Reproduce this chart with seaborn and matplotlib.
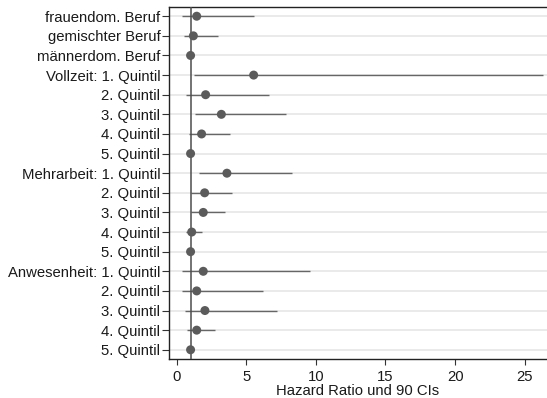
import matplotlib
matplotlib.use("Agg")
import matplotlib.pyplot as plt
import seaborn as sns
import pandas as pd

labels = ["frauendom. Beruf", "gemischter Beruf", "männerdom. Beruf",
          "Vollzeit: 1. Quintil", "2. Quintil ", "3. Quintil ", "4. Quintil ", "5. Quintil ",
          "Mehrarbeit: 1. Quintil", "2. Quintil  ", "3. Quintil  ", "4. Quintil  ", "5. Quintil  ",
          "Anwesenheit: 1. Quintil", "2. Quintil", "3. Quintil", "4. Quintil", "5. Quintil"]
hr = [1.44, 1.20, 1.00,
      5.53, 2.08, 3.21, 1.79, 1.00,
      3.61, 2.01, 1.91, 1.08, 1.00,
      1.91, 1.44, 2.03, 1.44, 1.00]
ci_lo = [0.41, 0.53, 1.00,
         1.22, 0.67, 1.34, 0.89, 1.00,
         1.60, 1.05, 1.05, 0.67, 1.00,
         0.41, 0.36, 0.60, 0.74, 1.00]
ci_hi = [5.53, 2.97, 1.00,
         26.3, 6.60, 7.87, 3.83, 1.00,
         8.25, 3.95, 3.47, 1.79, 1.00,
         9.57, 6.22, 7.20, 2.78, 1.00]
xticks = [0, 5, 10, 15, 20, 25]
xlabel = "Hazard Ratio und 90 CIs"

df = pd.DataFrame({"label": labels, "hr": hr, "lo": ci_lo, "hi": ci_hi})

sns.set_theme(style="white")
plt.rcParams['font.family'] = ['Liberation Sans', 'DejaVu Sans']
FS = 10.7
plt.rcParams['font.size'] = FS

fig = plt.figure(figsize=(5.47, 3.98), dpi=100)
ax = fig.add_axes([169/547, 39/398, 378/547, 352/398])

ypos = list(range(len(labels)))
ax.hlines(ypos, -1, 30, color="#e6e6e6", linewidth=1.2, zorder=0)
ax.hlines(ypos, df["lo"], df["hi"], color="#666666", linewidth=1.0, zorder=2)
ax.axvline(1, color="#4d4d4d", linewidth=1.1, zorder=3)
sns.scatterplot(data=df, x="hr", y="label", ax=ax, color="#5b5b5b", s=42,
                edgecolor="none", linewidth=0, zorder=4)

ax.set_xlim(-0.55, 26.6)
ax.set_ylim(len(labels) - 0.53, -0.47)
ax.set_xticks(xticks)
ax.set_xticklabels([str(t) for t in xticks])
ax.set_yticks(ypos)
ax.set_yticklabels([l.strip() for l in labels])
ax.set_xlabel(xlabel, fontsize=FS, labelpad=0.0, color="#1a1a1a")
ax.set_ylabel("")

for side in ["left", "bottom", "top"]:
    ax.spines[side].set_visible(True)
    ax.spines[side].set_color("#222222")
    ax.spines[side].set_linewidth(1.0)
ax.spines["right"].set_visible(False)

ax.tick_params(axis="y", which="both", left=True, length=4.7, width=0.8,
               pad=1.5, color="#333333", labelsize=FS, labelcolor="#1a1a1a")
ax.tick_params(axis="x", which="both", bottom=True, length=4.3, width=0.8,
               pad=3.5, color="#333333", labelsize=FS, labelcolor="#1a1a1a")
ax.grid(False)

fig.savefig("out.png", dpi=100)
